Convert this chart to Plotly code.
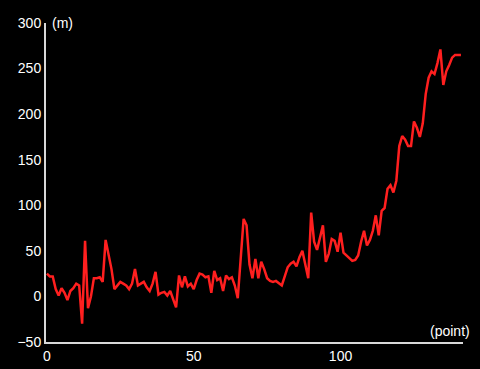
import plotly.graph_objects as go

altitude_m = [
    25, 22, 22, 8, 1, 9, 4, -4, 6, 9,
    14, 12, -30, 61, -13, 0, 20, 20, 21, 16,
    62, 45, 30, 8, 12, 16, 14, 12, 8, 14,
    30, 12, 14, 16, 10, 6, 14, 27, 2, 4,
    5, 1, 6, -3, -12, 23, 10, 22, 11, 14,
    8, 18, 25, 24, 21, 22, 4, 28, 18, 20,
    6, 23, 19, 21, 12, -2, 43, 85, 78, 35,
    20, 41, 20, 38, 30, 20, 17, 16, 17, 14,
    12, 22, 32, 36, 38, 33, 43, 50, 35, 20,
    92, 60, 51, 66, 78, 38, 47, 63, 61, 49,
    70, 48, 45, 41, 39, 40, 45, 60, 72, 56,
    62, 72, 89, 67, 94, 97, 118, 122, 114, 127,
    165, 176, 172, 165, 165, 192, 185, 175, 190, 222,
    240, 247, 244, 256, 271, 232, 247, 254, 262, 265,
    265, 265,
]
point_index = list(range(len(altitude_m)))
x_ticks = [0, 50, 100]
y_ticks = [-50, 0, 50, 100, 150, 200, 250, 300]

fig = go.Figure()
fig.add_trace(go.Scatter(
    x=point_index, y=altitude_m, mode="lines",
    line=dict(color="#ff1f1f", width=2.5),
    hoverinfo="skip", showlegend=False,
))

axis_font = dict(family="Liberation Sans, Arial, sans-serif", size=14, color="white")
fig.update_layout(
    width=480, height=369,
    margin=dict(l=46, r=17, t=23, b=27, autoexpand=False),
    paper_bgcolor="black", plot_bgcolor="black",
    font=axis_font,
    xaxis=dict(range=[-0.3, 141.7], tickvals=x_ticks, showgrid=False, zeroline=False,
               showline=True, linecolor="#d8d8d8", linewidth=2, ticks="",
               tickfont=axis_font, automargin=False),
    yaxis=dict(range=[-50, 300], tickvals=y_ticks, showgrid=False, zeroline=False,
               showline=True, linecolor="#d8d8d8", linewidth=2, ticks="",
               tickfont=axis_font, automargin=False),
    annotations=[
        dict(text="(m)", xref="paper", yref="paper", x=0.01, y=1.0,
             xanchor="left", yanchor="middle", showarrow=False, font=axis_font),
        dict(text="(point)", xref="paper", yref="paper", x=1.022, y=0.034,
             xanchor="right", yanchor="middle", showarrow=False, font=axis_font),
    ],
)

fig.write_html("out.html")
